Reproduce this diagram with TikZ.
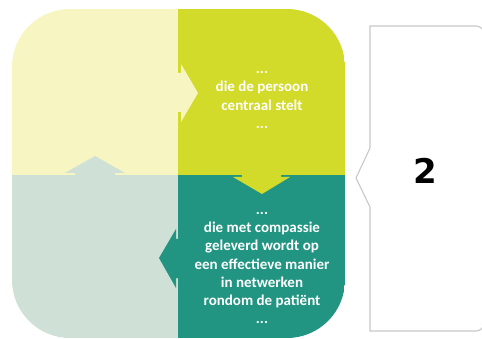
\documentclass[tikz,border=0pt]{standalone}
\usepackage{fontspec}
\setmainfont{Carlito}
\newfontfamily\numfont{DejaVu Sans}
\usetikzlibrary{positioning}

\definecolor{quad_yellow}{HTML}{F7F5C1}
\definecolor{quad_lime}{HTML}{D2DA2A}
\definecolor{quad_grey}{HTML}{CFE0D6}
\definecolor{quad_teal}{HTML}{219582}
\definecolor{bracket_grey}{HTML}{C8C8C8}

\begin{document}
\begin{tikzpicture}[x=1pt, y=-1pt,
    quad_text/.style={text=white, font=\fontsize{15}{18.3}\selectfont\bfseries, align=center},
    bracket_style/.style={draw=bracket_grey, line width=1.1pt, fill=white},
    num_style/.style={font=\numfont\bfseries\fontsize{34}{34}\selectfont, text=black}
]
\useasboundingbox (0,0) rectangle (482,339);

% Four quadrants inside one rounded block
\begin{scope}
    \clip[rounded corners=58pt] (12,9) rectangle (345,338);
    \fill[quad_yellow] (12,9) rectangle (178,175);
    \fill[quad_lime] (178,9) rectangle (345,175);
    \fill[quad_grey] (12,175) rectangle (178,338);
    \fill[quad_teal] (178,175) rectangle (345,338);
\end{scope}

% Arrows turning clockwise
\fill[quad_yellow] (170,73) -- (181,73) -- (181,64) -- (198,93) -- (181,122) -- (181,112) -- (170,112) -- cycle;
\fill[quad_lime] (242,168) -- (242,177) -- (233,177) -- (262,194) -- (290,177) -- (281,177) -- (281,168) -- cycle;
\fill[quad_teal] (186,239) -- (176,239) -- (176,229) -- (159,258) -- (176,288) -- (176,278) -- (186,278) -- cycle;
\fill[quad_grey] (75,182) -- (75,173) -- (65,173) -- (95,156) -- (125,173) -- (115,173) -- (115,182) -- cycle;

% Texts
\node[quad_text] (txt_tr) at (262,100) {...\\die de persoon\\centraal stelt\\...};
\node[quad_text] (txt_br) at (262,268) {...\\die met compassie\\geleverd wordt op\\een effectieve manier\\in netwerken\\rondom de patiënt\\...};

% Bracket with step number
\draw[bracket_style] (420,26) [rounded corners=8pt] -- (484,26) -- (484,331) -- (420,331) [sharp corners]
    -- (370,331) -- (370,207) -- (356,178) -- (370,148) -- (370,26) -- cycle;
\node[num_style] (num) at (425,171) {2};

\end{tikzpicture}
\end{document}
